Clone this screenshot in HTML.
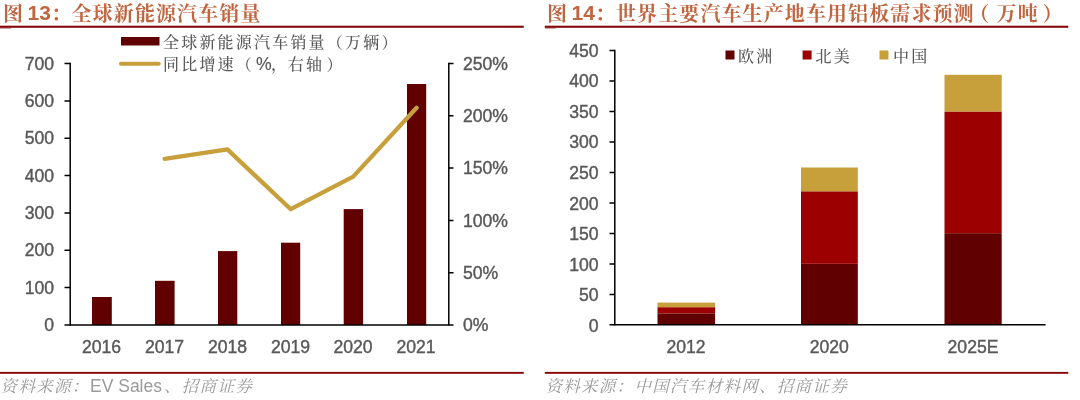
<!DOCTYPE html>
<html lang="zh-CN">
<head>
<meta charset="utf-8">
<title>图 13 / 图 14</title>
<style>
html,body{margin:0;padding:0;background:#fff;}
body{width:1080px;height:400px;overflow:hidden;position:relative;}
svg{position:absolute;left:0;top:0;display:block;}
text{font-family:"Liberation Sans","Noto Serif CJK SC",sans-serif;}
.ttl{font-size:20px;font-weight:bold;fill:#c0653f;letter-spacing:1.1px;}
.ttln{font-size:21px;font-weight:bold;fill:#c0653f;font-family:"Liberation Sans",sans-serif;}
.ax{font-size:17.6px;fill:#585858;stroke:#585858;stroke-width:0.4px;font-family:"Liberation Sans",sans-serif;}
.lg{font-size:16px;fill:#595959;letter-spacing:2.2px;font-weight:500;}
.src{font-size:16.5px;fill:#9a9a9a;letter-spacing:1.3px;}
.srcl{font-size:17.5px;fill:#9a9a9a;font-family:"Liberation Sans",sans-serif;}
</style>
</head>
<body>
<svg width="1080" height="400" viewBox="0 0 1080 400">
<rect x="0" y="0" width="1080" height="400" fill="#ffffff"/>

<!-- ===== left figure ===== -->
<text class="ttl" x="3" y="21">图</text>
<text class="ttln" x="27.5" y="20.3">13</text>
<text class="ttl" x="51" y="21">：</text>
<text class="ttl" x="71.6" y="21">全球新能源汽车销量</text>
<rect x="0" y="25.7" width="523.7" height="2.1" fill="#840808"/>
<rect x="0" y="27.6" width="11" height="0.9" fill="#840808" opacity="0.75"/>

<!-- legend -->
<rect x="121" y="37" width="38.5" height="8.5" fill="#600000"/>
<text class="lg" x="163" y="47.5">全球新能源汽车销量（万辆）</text>
<line x1="121" y1="63.8" x2="158.8" y2="63.8" stroke="#c7a03c" stroke-width="4" stroke-linecap="round"/>
<text class="lg" x="163" y="69.5">同比增速（</text><text class="ax" x="256" y="69.5" style="stroke-width:0.15px">%</text><text class="lg" x="271" y="69.5">，</text><text class="lg" x="287.8" y="69.5">右轴</text><text class="lg" x="326.6" y="69.5">）</text>

<!-- bars -->
<g fill="#600000">
<rect x="92" y="297" width="19.8" height="28"/>
<rect x="155" y="280.8" width="19.6" height="44.2"/>
<rect x="218" y="251.1" width="19.3" height="73.9"/>
<rect x="281" y="242.7" width="19.2" height="82.3"/>
<rect x="343.7" y="209.1" width="19.4" height="115.9"/>
<rect x="407" y="84" width="19.2" height="241"/>
</g>
<!-- line -->
<polyline points="164.7,158.8 227.4,149.4 290.7,209.2 353.2,176.6 416.6,107.8" fill="none" stroke="#c7a03c" stroke-width="4.3" stroke-linecap="round" stroke-linejoin="round"/>

<!-- axes -->
<g stroke="#000" stroke-width="1.5" fill="none">
<path d="M70.2,62.8V325.6"/>
<path d="M64.5,325H448.8"/>
<path d="M448.8,62.8V325.6"/>
<path d="M64.5,63.5H70.2M64.5,100.9H70.2M64.5,138.2H70.2M64.5,175.6H70.2M64.5,212.9H70.2M64.5,250.3H70.2M64.5,287.6H70.2"/>
<path d="M448.8,63.5H453.5M448.8,115.8H453.5M448.8,168.1H453.5M448.8,220.4H453.5M448.8,272.7H453.5M448.8,325H453.5"/>
</g>
<g class="ax" text-anchor="end">
<text x="54" y="69.6">700</text>
<text x="54" y="107">600</text>
<text x="54" y="144.3">500</text>
<text x="54" y="181.7">400</text>
<text x="54" y="219">300</text>
<text x="54" y="256.4">200</text>
<text x="54" y="293.7">100</text>
<text x="54" y="331.1">0</text>
</g>
<g class="ax">
<text x="463" y="69.6">250%</text>
<text x="463" y="121.9">200%</text>
<text x="463" y="174.2">150%</text>
<text x="463" y="226.5">100%</text>
<text x="463" y="278.8">50%</text>
<text x="463" y="331.1">0%</text>
</g>
<g class="ax" text-anchor="middle">
<text x="101.6" y="353">2016</text>
<text x="164.6" y="353">2017</text>
<text x="227.6" y="353">2018</text>
<text x="290.6" y="353">2019</text>
<text x="353" y="353">2020</text>
<text x="416" y="353">2021</text>
</g>

<rect x="0" y="371.9" width="523.7" height="1.9" fill="#840808"/>
<text class="src" x="0.6" y="392" font-style="italic">资料来源：</text>
<text class="srcl" x="90" y="392">EV Sales</text>
<text class="src" x="164" y="392" font-style="italic">、招商证券</text>

<!-- ===== right figure ===== -->
<text class="ttl" x="547" y="21">图</text>
<text class="ttln" x="571.5" y="20.3">14</text>
<text class="ttl" x="595" y="21">：</text>
<text class="ttl" x="616" y="21">世界主要汽车生产地车用铝板需求预测</text><text class="ttl" x="969.3" y="21">（</text><text class="ttl" x="996.6" y="21">万吨</text><text class="ttl" x="1042.5" y="21">）</text>
<rect x="544.8" y="25.7" width="523.5" height="2.1" fill="#840808"/>
<rect x="544.8" y="27.6" width="11" height="0.9" fill="#840808" opacity="0.75"/>

<!-- legend -->
<rect x="725.5" y="50.5" width="9" height="9" fill="#600000"/>
<text class="lg" x="738" y="61.5">欧洲</text>
<rect x="802.6" y="50.5" width="9" height="9" fill="#9c0000"/>
<text class="lg" x="815.5" y="61.5">北美</text>
<rect x="879.5" y="50.5" width="9" height="9" fill="#c7a03c"/>
<text class="lg" x="893" y="61.5">中国</text>

<!-- bars -->
<g>
<rect x="657.5" y="313.4" width="57.6" height="11.6" fill="#600000"/>
<rect x="657.5" y="307.2" width="57.6" height="6.2" fill="#9c0000"/>
<rect x="657.5" y="302.6" width="57.6" height="4.6" fill="#c7a03c"/>

<rect x="801" y="263.8" width="56.8" height="61.2" fill="#600000"/>
<rect x="801" y="191.3" width="56.8" height="72.5" fill="#9c0000"/>
<rect x="801" y="167.5" width="56.8" height="23.8" fill="#c7a03c"/>

<rect x="944.5" y="233.2" width="57.2" height="91.8" fill="#600000"/>
<rect x="944.5" y="111.5" width="57.2" height="121.7" fill="#9c0000"/>
<rect x="944.5" y="74.8" width="57.2" height="36.7" fill="#c7a03c"/>
</g>

<g stroke="#000" stroke-width="1.5" fill="none">
<path d="M614.8,49.7V325.5"/>
<path d="M609.5,324.8H1045.6"/>
<path d="M609.5,50.4H615M609.5,80.9H615M609.5,111.4H615M609.5,141.9H615M609.5,172.4H615M609.5,202.9H615M609.5,233.4H615M609.5,263.9H615M609.5,294.4H615"/>
</g>
<g class="ax" text-anchor="end">
<text x="598.5" y="56.7">450</text>
<text x="598.5" y="87.3">400</text>
<text x="598.5" y="117.8">350</text>
<text x="598.5" y="148.4">300</text>
<text x="598.5" y="178.9">250</text>
<text x="598.5" y="209.5">200</text>
<text x="598.5" y="240.0">150</text>
<text x="598.5" y="270.6">100</text>
<text x="598.5" y="301.1">50</text>
<text x="598.5" y="331.7">0</text>
</g>
<g class="ax" text-anchor="middle">
<text x="686" y="353">2012</text>
<text x="829.3" y="353">2020</text>
<text x="973" y="353">2025E</text>
</g>

<rect x="544.8" y="371.9" width="523.5" height="1.9" fill="#840808"/>
<text class="src" x="545.4" y="392" font-style="italic">资料来源：中国汽车材料网、招商证券</text>
</svg>
</body>
</html>
